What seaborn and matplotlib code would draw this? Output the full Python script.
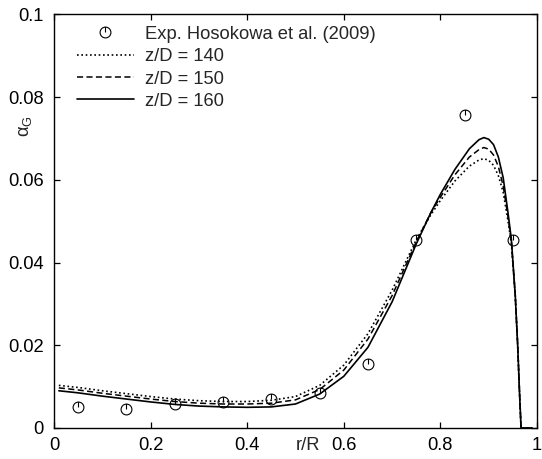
import numpy as np
import pandas as pd
import matplotlib
matplotlib.use("Agg")
import matplotlib.pyplot as plt
from matplotlib.path import Path
from matplotlib.transforms import ScaledTranslation
import seaborn as sns

# Experimental data (Hosokawa et al. 2009)
exp_r = [0.05, 0.15, 0.25, 0.35, 0.45, 0.55, 0.65, 0.75, 0.85, 0.95]
exp_a = [0.0050, 0.0045, 0.0058, 0.0062, 0.0070, 0.0085, 0.0155, 0.0455, 0.0757, 0.0455]

# Simulation curves
r_sim = [0.01, 0.05, 0.10, 0.15, 0.20, 0.25, 0.30, 0.35, 0.40, 0.45, 0.50, 0.55,
         0.60, 0.65, 0.70, 0.75, 0.78, 0.80, 0.83, 0.86, 0.88, 0.89, 0.90, 0.91,
         0.92, 0.93, 0.94, 0.947, 0.955, 0.960, 0.964, 0.967, 0.99]
a_140 = [0.0103, 0.0098, 0.0090, 0.0083, 0.0076, 0.0070, 0.0066, 0.0064, 0.0064, 0.0067, 0.0076, 0.0103,
         0.0152, 0.0228, 0.0333, 0.0455, 0.0515, 0.0550, 0.0597, 0.0633, 0.0648, 0.0651, 0.0647, 0.0635,
         0.0610, 0.0570, 0.0500, 0.0445, 0.0320, 0.0200, 0.0080, 0.0, 0.0]
a_150 = [0.0097, 0.0092, 0.0084, 0.0077, 0.0070, 0.0064, 0.0060, 0.0058, 0.0058, 0.0060, 0.0068, 0.0093,
         0.0140, 0.0215, 0.0320, 0.0450, 0.0520, 0.0558, 0.0612, 0.0655, 0.0673, 0.0678, 0.0674, 0.0660,
         0.0632, 0.0585, 0.0510, 0.0450, 0.0320, 0.0200, 0.0080, 0.0, 0.0]
a_160 = [0.0090, 0.0085, 0.0077, 0.0070, 0.0063, 0.0057, 0.0053, 0.0051, 0.0050, 0.0051, 0.0058, 0.0082,
         0.0125, 0.0195, 0.0305, 0.0445, 0.0520, 0.0565, 0.0625, 0.0675, 0.0697, 0.0702, 0.0698, 0.0685,
         0.0655, 0.0605, 0.0520, 0.0455, 0.0320, 0.0200, 0.0080, 0.0, 0.0]

labels = ["Exp. Hosokowa et al. (2009)", "z/D = 140", "z/D = 150", "z/D = 160"]
xticks = [0, 0.2, 0.4, 0.6, 0.8, 1]
xticklabels = ["0", "0.2", "0.4", "0.6", "0.8", "1"]
yticks = [0, 0.02, 0.04, 0.06, 0.08, 0.1]
yticklabels = ["0", "0.02", "0.04", "0.06", "0.08", "0.1"]

FS = 13.2
XPAD = 6.6

sns.set_style("ticks")
plt.rcParams["font.family"] = ["Liberation Sans", "DejaVu Sans"]
plt.rcParams["mathtext.fontset"] = "custom"
plt.rcParams["mathtext.rm"] = "Liberation Sans"
plt.rcParams["mathtext.it"] = "Liberation Sans"

fig = plt.figure(figsize=(5.42, 4.59), dpi=100)
ax = fig.add_axes([54 / 542, 1 - 428 / 459, 483 / 542, 413.7 / 459])

# marker: open circle with a vertical tick from centre to top
circ = Path.unit_circle()
tick = Path([(0, 0), (0, 1)], [Path.MOVETO, Path.LINETO])
mpath = Path.make_compound_path(circ, tick)

sns.lineplot(x=exp_r, y=exp_a, ax=ax, linestyle="none", marker=mpath,
             markersize=7.8, markerfacecolor="none", markeredgecolor="k",
             markeredgewidth=0.8, color="k", label=labels[0])
sns.lineplot(x=r_sim, y=a_140, ax=ax, color="k", linestyle=(0, (1, 1.6)), linewidth=1.2,
             label=labels[1])
sns.lineplot(x=r_sim, y=a_150, ax=ax, color="k", linestyle=(0, (4, 2.2)), linewidth=1.1,
             label=labels[2])
sns.lineplot(x=r_sim, y=a_160, ax=ax, color="k", linestyle="-", linewidth=1.2,
             label=labels[3])

ax.set_xlim(0, 1)
ax.set_ylim(0, 0.1)
ax.set_xticks(xticks)
ax.set_xticklabels(xticklabels)
ax.set_yticks(yticks)
ax.set_yticklabels(yticklabels)
ax.tick_params(direction="in", length=4.5, width=0.9, top=True, right=True,
               labelsize=FS, colors="k")
ax.tick_params(axis="x", pad=XPAD)
ax.tick_params(axis="y", pad=7.6)
for s in ax.spines.values():
    s.set_linewidth(1.0)
    s.set_color("k")
ax.set_xlabel("")
ax.set_ylabel("")

ax.text(25 / 542, 1 - 126 / 459, r"$\alpha_G$", transform=fig.transFigure,
        rotation=90, ha="center", va="center", fontsize=FS)
ax.text(0.525, 0, "r/R",
        transform=ax.transAxes + ScaledTranslation(0, -XPAD / 72, fig.dpi_scale_trans),
        ha="center", va="top", fontsize=FS)

leg = ax.legend(loc="upper left", bbox_to_anchor=(23 / 483, 0.972), frameon=False,
                borderaxespad=0, borderpad=0, handlelength=3.1, handletextpad=0.62,
                labelspacing=0.29, fontsize=FS, numpoints=1)

fig.savefig("out.png", dpi=100)
